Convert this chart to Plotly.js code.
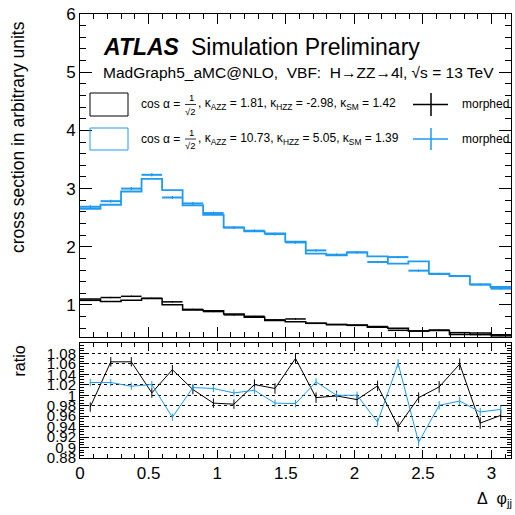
<!DOCTYPE html>
<html>
<head>
<meta charset="utf-8">
<script src="https://cdn.plot.ly/plotly-3.0.1.min.js"></script>
<style>html,body{margin:0;padding:0;background:#fff;}#chart{width:515px;height:515px;}</style>
</head>
<body>
<div id="chart"></div>
<script>
// ---------------- data ----------------
const nBins = 21;
const xMax = Math.PI;

// hypothesis 1 (black): reference histogram and morphed prediction
const blackRef     = [1.105, 1.060, 1.080, 1.110, 1.005, 0.915, 0.900, 0.845, 0.790, 0.735, 0.710, 0.688, 0.664, 0.655, 0.618, 0.600, 0.555, 0.560, 0.495, 0.520, 0.490];
const blackMorph   = [1.080, 1.128, 1.149, 1.115, 1.054, 0.925, 0.887, 0.830, 0.806, 0.745, 0.760, 0.685, 0.663, 0.650, 0.630, 0.565, 0.553, 0.570, 0.525, 0.490, 0.470];
const blackMorphErr= [0.012, 0.012, 0.012, 0.012, 0.011, 0.010, 0.010, 0.010, 0.009, 0.009, 0.009, 0.008, 0.008, 0.008, 0.008, 0.008, 0.008, 0.008, 0.007, 0.007, 0.007];

// hypothesis 2 (blue)
const blueRef      = [2.654, 2.722, 2.950, 3.168, 2.975, 2.710, 2.550, 2.328, 2.264, 2.230, 2.090, 1.882, 1.853, 1.904, 1.835, 1.712, 1.750, 1.538, 1.497, 1.355, 1.309];
const blueMorph    = [2.688, 2.784, 3.000, 3.237, 2.847, 2.745, 2.580, 2.333, 2.276, 2.218, 2.075, 1.938, 1.864, 1.904, 1.738, 1.823, 1.590, 1.532, 1.497, 1.350, 1.281];
const blueMorphErr = [0.025, 0.025, 0.027, 0.028, 0.026, 0.025, 0.024, 0.023, 0.022, 0.022, 0.021, 0.020, 0.020, 0.020, 0.019, 0.019, 0.018, 0.018, 0.017, 0.016, 0.016];

// ratio panel (morphed / reference)
const blackRatio    = [0.9775, 1.064, 1.064, 1.0045, 1.049, 1.011, 0.985, 0.983, 1.0205, 1.013, 1.0705, 0.9955, 0.9987, 0.9917, 1.018, 0.940, 0.9955, 1.016, 1.0596, 0.9468, 0.9615];
const blackRatioErr = [0.009, 0.009, 0.009, 0.009, 0.009, 0.009, 0.009, 0.009, 0.010, 0.010, 0.010, 0.010, 0.010, 0.010, 0.010, 0.010, 0.010, 0.011, 0.011, 0.011, 0.011];
const blueRatio     = [1.0244, 1.0244, 1.0173, 1.0205, 0.958, 1.0147, 1.013, 1.0045, 1.0096, 0.985, 0.984, 1.0256, 1.000, 1.000, 0.9487, 1.061, 0.910, 0.9808, 0.989, 0.968, 0.973];
const blueRatioErr  = [0.007, 0.007, 0.007, 0.007, 0.007, 0.007, 0.007, 0.007, 0.007, 0.007, 0.007, 0.007, 0.007, 0.007, 0.008, 0.008, 0.008, 0.008, 0.008, 0.008, 0.008];

const ratioTickVals = [0.88, 0.90, 0.92, 0.94, 0.96, 0.98, 1.00, 1.02, 1.04, 1.06, 1.08];
const ratioTickText = ["0.88", "0.9", "0.92", "0.94", "0.96", "0.98", "1", "1.02", "1.04", "1.06", "1.08"];
const xTickVals = [0, 0.5, 1, 1.5, 2, 2.5, 3];
const xTickText = ["0", "0.5", "1", "1.5", "2", "2.5", "3"];

const legendPrefix = "cos α =";
const fracNum = "1", fracDen = "√2";
const legendRest1 = ", κ<sub>AZZ</sub> = 1.81, κ<sub>HZZ</sub> = -2.98, κ<sub>SM</sub> = 1.42";
const legendRest2 = ", κ<sub>AZZ</sub> = 10.73, κ<sub>HZZ</sub> = 5.05, κ<sub>SM</sub> = 1.39";

// ---------------- helpers ----------------
const bw = xMax / nBins;
const edges = [], centers = [], halfW = [];
for (let i = 0; i < nBins; i++) { edges.push(i * bw); centers.push((i + 0.5) * bw); halfW.push(bw / 2); }
edges.push(xMax);
function stepY(v) { return v.concat([v[v.length - 1]]); }

const BLUE = '#1f9bf0';
const FONT = 'Liberation Sans, Arial, Helvetica, sans-serif';

// pixel -> paper conversion for decorations (plot area: x 80..511, y 14..458)
const L = 80, R = 4, T = 14, B = 57, W = 515, H = 515;
const PW = W - L - R, PH = H - T - B;
const PX = p => (p - L) / PW;
const PY = p => (H - B - p) / PH;

const traces = [
  {x: edges, y: stepY(blackRef), type: 'scatter', mode: 'lines', line: {shape: 'hv', color: '#000', width: 1.5}, xaxis: 'x', yaxis: 'y', hoverinfo: 'skip'},
  {x: centers, y: blackMorph, type: 'scatter', mode: 'markers', marker: {size: 1, color: '#000'},
   error_x: {type: 'data', array: halfW, color: '#000', thickness: 1.5, width: 0},
   error_y: {type: 'data', array: blackMorphErr, color: '#000', thickness: 1, width: 0}, xaxis: 'x', yaxis: 'y'},
  {x: edges, y: stepY(blueRef), type: 'scatter', mode: 'lines', line: {shape: 'hv', color: BLUE, width: 1.8}, xaxis: 'x', yaxis: 'y', hoverinfo: 'skip'},
  {x: centers, y: blueMorph, type: 'scatter', mode: 'markers', marker: {size: 1, color: BLUE},
   error_x: {type: 'data', array: halfW, color: BLUE, thickness: 2, width: 0},
   error_y: {type: 'data', array: blueMorphErr, color: '#1565a8', thickness: 1, width: 0}, xaxis: 'x', yaxis: 'y'},
  {x: centers, y: blackRatio, type: 'scatter', mode: 'lines', line: {color: '#000', width: 1},
   error_y: {type: 'data', array: blackRatioErr, color: '#000', thickness: 1, width: 0}, xaxis: 'x2', yaxis: 'y2'},
  {x: centers, y: blueRatio, type: 'scatter', mode: 'lines', line: {color: BLUE, width: 1},
   error_y: {type: 'data', array: blueRatioErr, color: BLUE, thickness: 1, width: 0}, xaxis: 'x2', yaxis: 'y2'}
];

const axBase = {showline: true, linecolor: '#000', linewidth: 1, mirror: 'allticks', ticks: 'inside',
  tickcolor: '#000', zeroline: false, showgrid: false, tickfont: {family: FONT, size: 17, color: '#000'}};

function txt(x, y, text, size, extra) {
  return Object.assign({xref: 'paper', yref: 'paper', x: PX(x), y: PY(y), xanchor: 'left', yanchor: 'middle',
    showarrow: false, text: text, font: {family: FONT, size: size, color: '#000'}}, extra || {});
}

const legendRows = [
  {y: 104.5, rest: legendRest1},
  {y: 139, rest: legendRest2}
];
const legendAnn = [], legendShapes = [];
legendRows.forEach(r => {
  legendAnn.push(txt(139.3, r.y, legendPrefix, 12));
  legendAnn.push(txt(191, r.y - 6.5, fracNum, 9.5, {xanchor: 'center'}));
  legendAnn.push(txt(190, r.y + 6.5, fracDen, 9.5, {xanchor: 'center'}));
  legendAnn.push(txt(196, r.y, r.rest, 12));
  legendShapes.push({type: 'line', xref: 'paper', yref: 'paper', x0: PX(185), x1: PX(196), y0: PY(r.y), y1: PY(r.y), line: {color: '#000', width: 0.8}});
});

const layout = {
  width: W, height: H,
  margin: {l: L, r: R, t: T, b: B},
  paper_bgcolor: '#fff', plot_bgcolor: '#fff',
  showlegend: false,
  font: {family: FONT, color: '#000'},
  xaxis: Object.assign({}, axBase, {domain: [0, 1], anchor: 'y', range: [0, xMax], tickvals: xTickVals,
    showticklabels: false, ticklen: 10, minor: {dtick: 0.1, tick0: 0, ticklen: 5, ticks: 'inside', tickcolor: '#000'}}),
  yaxis: Object.assign({}, axBase, {domain: [PY(337), 1], anchor: 'x', range: [0.45, 6], dtick: 1, tick0: 0,
    ticklen: 12, minor: {dtick: 0.2, tick0: 0, ticklen: 6, ticks: 'inside', tickcolor: '#000'}}),
  xaxis2: Object.assign({}, axBase, {domain: [0, 1], anchor: 'y2', range: [0, xMax], tickvals: xTickVals, ticktext: xTickText,
    ticklen: 8, minor: {dtick: 0.1, tick0: 0, ticklen: 4, ticks: 'inside', tickcolor: '#000'}}),
  yaxis2: Object.assign({}, axBase, {domain: [0, PY(343)], anchor: 'x2', range: [0.88, 1.1], tickvals: ratioTickVals, ticktext: ratioTickText,
    tickfont: {family: FONT, size: 15, color: '#000'},
    showgrid: true, gridcolor: '#000', griddash: 'dot', gridwidth: 1,
    ticklen: 8, minor: {dtick: 0.005, tick0: 0, ticklen: 4, ticks: 'inside', tickcolor: '#000', showgrid: false}}),
  shapes: [
    {type: 'rect', xref: 'paper', yref: 'paper', x0: PX(90), x1: PX(128), y0: PY(116), y1: PY(93), line: {color: '#000', width: 1}},
    {type: 'rect', xref: 'paper', yref: 'paper', x0: PX(90), x1: PX(128), y0: PY(150), y1: PY(128), line: {color: BLUE, width: 1}},
    {type: 'line', xref: 'paper', yref: 'paper', x0: PX(413), x1: PX(448), y0: PY(104.5), y1: PY(104.5), line: {color: '#000', width: 1.5}},
    {type: 'line', xref: 'paper', yref: 'paper', x0: PX(431), x1: PX(431), y0: PY(93), y1: PY(116), line: {color: '#000', width: 1.5}},
    {type: 'line', xref: 'paper', yref: 'paper', x0: PX(413), x1: PX(448), y0: PY(139), y1: PY(139), line: {color: BLUE, width: 1.5}},
    {type: 'line', xref: 'paper', yref: 'paper', x0: PX(431), x1: PX(431), y0: PY(128), y1: PY(150), line: {color: BLUE, width: 1.5}}
  ].concat(legendShapes),
  annotations: [
    txt(101, 47, '<b><i>ATLAS</i></b>', 23),
    txt(189, 47, 'Simulation Preliminary', 23),
    txt(101, 73, 'MadGraph5_aMC@NLO,\u00A0\u00A0VBF:\u00A0\u00A0H→ZZ→4l, √s = 13 TeV', 15.5),
    txt(460, 104.5, 'morphed', 12),
    txt(460, 139, 'morphed', 12),
    txt(18, 19, 'cross section in arbitrary units', 17.5, {xanchor: 'center', yanchor: 'top', textangle: -90}),
    txt(19, 344, 'ratio', 16, {xanchor: 'center', yanchor: 'top', textangle: -90}),
    txt(514, 500, 'Δ\u00A0\u00A0φ<sub>jj</sub>', 16, {xanchor: 'right'})
  ].concat(legendAnn)
};

Plotly.newPlot('chart', traces, layout, {staticPlot: true, displayModeBar: false});
</script>
</body>
</html>
